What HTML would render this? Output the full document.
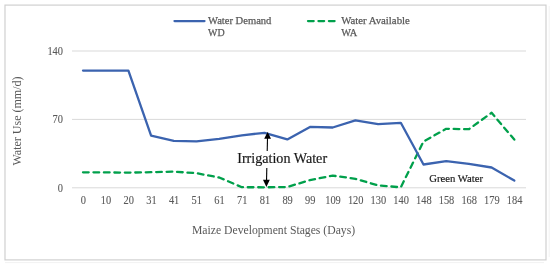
<!DOCTYPE html>
<html><head><meta charset="utf-8"><style>
html,body{margin:0;padding:0;background:#fff;width:550px;height:265px;overflow:hidden;}
svg{display:block;will-change:transform;}

</style></head><body>
<div><svg width="550" height="265" viewBox="0 0 550 265">
<defs><filter id="bl" filterUnits="userSpaceOnUse" x="0" y="0" width="550" height="265"><feGaussianBlur stdDeviation="0.35"/></filter></defs>
<g filter="url(#bl)">
<line x1="5" y1="262.6" x2="544" y2="262.6" stroke="#f2f2f2" stroke-width="1"/>
<line x1="549.2" y1="6" x2="549.2" y2="257" stroke="#f2f2f2" stroke-width="1"/>
<rect x="5" y="5.1" width="541" height="254.8" fill="#fff" stroke="#d0d0d0" stroke-width="1.2"/>
<line x1="72" y1="187.80" x2="526" y2="187.80" stroke="#d9d9d9" stroke-width="1"/>
<text x="63" y="191.50" text-anchor="end" textLength="5.2" lengthAdjust="spacingAndGlyphs" font-size="11.6" fill="#595959" stroke="#595959" stroke-width="0.1" font-family="Liberation Serif, serif">0</text>
<line x1="72" y1="119.40" x2="526" y2="119.40" stroke="#d9d9d9" stroke-width="1"/>
<text x="63" y="123.10" text-anchor="end" textLength="10.4" lengthAdjust="spacingAndGlyphs" font-size="11.6" fill="#595959" stroke="#595959" stroke-width="0.1" font-family="Liberation Serif, serif">70</text>
<line x1="72" y1="51.00" x2="526" y2="51.00" stroke="#d9d9d9" stroke-width="1"/>
<text x="63" y="54.70" text-anchor="end" textLength="15.6" lengthAdjust="spacingAndGlyphs" font-size="11.6" fill="#595959" stroke="#595959" stroke-width="0.1" font-family="Liberation Serif, serif">140</text>
<text x="83.30" y="203.8" text-anchor="middle" textLength="5.2" lengthAdjust="spacingAndGlyphs" font-size="11.6" fill="#595959" stroke="#595959" stroke-width="0.1" font-family="Liberation Serif, serif">0</text>
<text x="106.00" y="203.8" text-anchor="middle" textLength="10.4" lengthAdjust="spacingAndGlyphs" font-size="11.6" fill="#595959" stroke="#595959" stroke-width="0.1" font-family="Liberation Serif, serif">10</text>
<text x="128.70" y="203.8" text-anchor="middle" textLength="10.4" lengthAdjust="spacingAndGlyphs" font-size="11.6" fill="#595959" stroke="#595959" stroke-width="0.1" font-family="Liberation Serif, serif">20</text>
<text x="151.40" y="203.8" text-anchor="middle" textLength="10.4" lengthAdjust="spacingAndGlyphs" font-size="11.6" fill="#595959" stroke="#595959" stroke-width="0.1" font-family="Liberation Serif, serif">31</text>
<text x="174.10" y="203.8" text-anchor="middle" textLength="10.4" lengthAdjust="spacingAndGlyphs" font-size="11.6" fill="#595959" stroke="#595959" stroke-width="0.1" font-family="Liberation Serif, serif">41</text>
<text x="196.80" y="203.8" text-anchor="middle" textLength="10.4" lengthAdjust="spacingAndGlyphs" font-size="11.6" fill="#595959" stroke="#595959" stroke-width="0.1" font-family="Liberation Serif, serif">51</text>
<text x="219.50" y="203.8" text-anchor="middle" textLength="10.4" lengthAdjust="spacingAndGlyphs" font-size="11.6" fill="#595959" stroke="#595959" stroke-width="0.1" font-family="Liberation Serif, serif">61</text>
<text x="242.20" y="203.8" text-anchor="middle" textLength="10.4" lengthAdjust="spacingAndGlyphs" font-size="11.6" fill="#595959" stroke="#595959" stroke-width="0.1" font-family="Liberation Serif, serif">71</text>
<text x="264.90" y="203.8" text-anchor="middle" textLength="10.4" lengthAdjust="spacingAndGlyphs" font-size="11.6" fill="#595959" stroke="#595959" stroke-width="0.1" font-family="Liberation Serif, serif">81</text>
<text x="287.60" y="203.8" text-anchor="middle" textLength="10.4" lengthAdjust="spacingAndGlyphs" font-size="11.6" fill="#595959" stroke="#595959" stroke-width="0.1" font-family="Liberation Serif, serif">89</text>
<text x="310.30" y="203.8" text-anchor="middle" textLength="10.4" lengthAdjust="spacingAndGlyphs" font-size="11.6" fill="#595959" stroke="#595959" stroke-width="0.1" font-family="Liberation Serif, serif">99</text>
<text x="333.00" y="203.8" text-anchor="middle" textLength="15.6" lengthAdjust="spacingAndGlyphs" font-size="11.6" fill="#595959" stroke="#595959" stroke-width="0.1" font-family="Liberation Serif, serif">109</text>
<text x="355.70" y="203.8" text-anchor="middle" textLength="15.6" lengthAdjust="spacingAndGlyphs" font-size="11.6" fill="#595959" stroke="#595959" stroke-width="0.1" font-family="Liberation Serif, serif">120</text>
<text x="378.40" y="203.8" text-anchor="middle" textLength="15.6" lengthAdjust="spacingAndGlyphs" font-size="11.6" fill="#595959" stroke="#595959" stroke-width="0.1" font-family="Liberation Serif, serif">130</text>
<text x="401.10" y="203.8" text-anchor="middle" textLength="15.6" lengthAdjust="spacingAndGlyphs" font-size="11.6" fill="#595959" stroke="#595959" stroke-width="0.1" font-family="Liberation Serif, serif">140</text>
<text x="423.80" y="203.8" text-anchor="middle" textLength="15.6" lengthAdjust="spacingAndGlyphs" font-size="11.6" fill="#595959" stroke="#595959" stroke-width="0.1" font-family="Liberation Serif, serif">148</text>
<text x="446.50" y="203.8" text-anchor="middle" textLength="15.6" lengthAdjust="spacingAndGlyphs" font-size="11.6" fill="#595959" stroke="#595959" stroke-width="0.1" font-family="Liberation Serif, serif">158</text>
<text x="469.20" y="203.8" text-anchor="middle" textLength="15.6" lengthAdjust="spacingAndGlyphs" font-size="11.6" fill="#595959" stroke="#595959" stroke-width="0.1" font-family="Liberation Serif, serif">168</text>
<text x="491.90" y="203.8" text-anchor="middle" textLength="15.6" lengthAdjust="spacingAndGlyphs" font-size="11.6" fill="#595959" stroke="#595959" stroke-width="0.1" font-family="Liberation Serif, serif">179</text>
<text x="514.60" y="203.8" text-anchor="middle" textLength="15.6" lengthAdjust="spacingAndGlyphs" font-size="11.6" fill="#595959" stroke="#595959" stroke-width="0.1" font-family="Liberation Serif, serif">184</text>
<text x="273.5" y="233.9" text-anchor="middle" font-size="11.7" fill="#595959" stroke="#595959" stroke-width="0" font-family="Liberation Serif, serif">Maize Development Stages (Days)</text>
<text x="0" y="0" text-anchor="middle" font-size="12" fill="#595959" stroke="#595959" stroke-width="0" font-family="Liberation Serif, serif" transform="translate(21,121) rotate(-90)">Water Use (mm/d)</text>
<path d="M83.00,172.30 L105.70,172.40 L128.40,172.60 L151.10,172.20 L173.80,171.60 L196.50,173.20 L219.20,177.50 L241.90,187.20 L264.60,187.30 L287.30,187.00 L310.00,180.10 L332.70,175.60 L355.40,178.80 L378.10,185.40 L400.80,187.30 L423.50,141.50 L446.20,128.80 L468.90,129.20 L491.60,112.80 L514.30,139.60" fill="none" stroke="#02A04C" stroke-width="2.3" stroke-dasharray="5.7 4.75" stroke-linecap="round" stroke-linejoin="round"/>
<path d="M83.00,70.60 L105.70,70.60 L128.40,70.60 L151.10,135.70 L173.80,140.80 L196.50,141.40 L219.20,138.90 L241.90,135.30 L264.60,132.80 L287.30,139.40 L310.00,126.90 L332.70,127.50 L355.40,120.40 L378.10,124.20 L400.80,122.80 L423.50,164.50 L446.20,161.10 L468.90,163.90 L491.60,167.50 L514.30,180.60" fill="none" stroke="#3B63AF" stroke-width="2.3" stroke-linecap="round" stroke-linejoin="round"/>
<line x1="174.5" y1="21.1" x2="204.5" y2="21.1" stroke="#3B63AF" stroke-width="2.3" stroke-linecap="round"/>
<text x="208" y="24.0" textLength="63.4" lengthAdjust="spacingAndGlyphs" font-size="10.9" fill="#595959" stroke="#595959" stroke-width="0.25" font-family="Liberation Serif, serif">Water Demand</text>
<text x="208" y="36.3" textLength="16.6" lengthAdjust="spacingAndGlyphs" font-size="10.9" fill="#595959" stroke="#595959" stroke-width="0.25" font-family="Liberation Serif, serif">WD</text>
<line x1="308" y1="21.1" x2="335" y2="21.1" stroke="#02A04C" stroke-width="2.3" stroke-dasharray="5.7 4.75" stroke-linecap="round"/>
<text x="341.2" y="24.0" textLength="68.6" lengthAdjust="spacingAndGlyphs" font-size="10.9" fill="#595959" stroke="#595959" stroke-width="0.25" font-family="Liberation Serif, serif">Water Available</text>
<text x="341.2" y="36.3" textLength="16.0" lengthAdjust="spacingAndGlyphs" font-size="10.9" fill="#595959" stroke="#595959" stroke-width="0.25" font-family="Liberation Serif, serif">WA</text>
<line x1="267.55" y1="136" x2="266.5" y2="182" stroke="#000" stroke-width="1.1"/>
<path d="M267.6,131.9 L271.0,138.7 L264.2,138.7 Z" fill="#000"/>
<path d="M266.4,186.9 L269.8,179.8 L263.0,179.8 Z" fill="#000"/>
<rect x="236" y="151" width="93" height="17" fill="#fff"/>
<text x="237.2" y="162.5" textLength="89.9" lengthAdjust="spacingAndGlyphs" font-size="13.9" fill="#1a1a1a" stroke="#1a1a1a" stroke-width="0.18" font-family="Liberation Serif, serif">Irrigation Water</text>
<text x="429.2" y="182.4" textLength="53.9" lengthAdjust="spacingAndGlyphs" font-size="11" fill="#1a1a1a" stroke="#1a1a1a" stroke-width="0.18" font-family="Liberation Serif, serif">Green Water</text>
</g>
</svg></div>
</body></html>
